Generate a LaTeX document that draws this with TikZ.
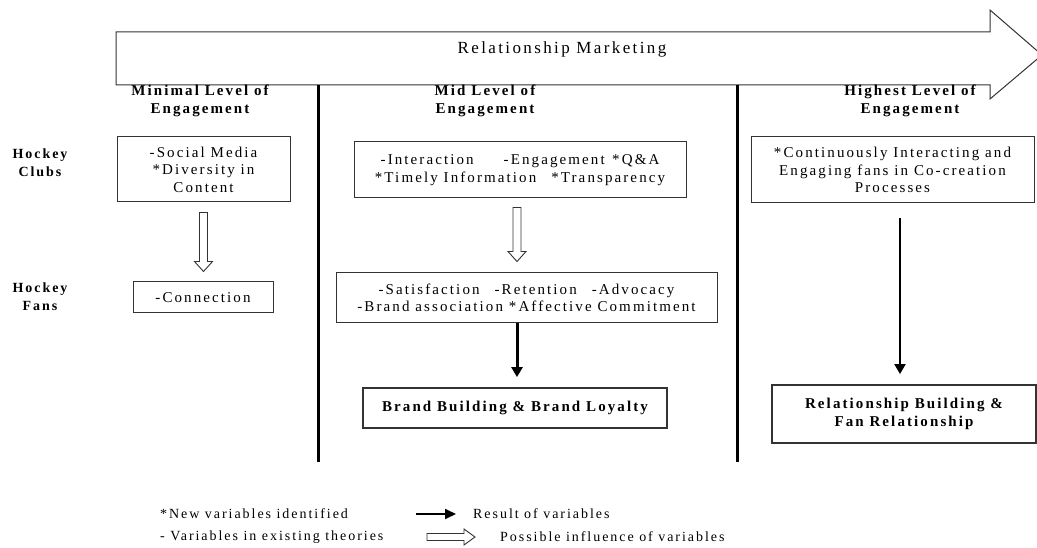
\documentclass[tikz,border=0pt]{standalone}
\usepackage{fontspec}
\setmainfont{Liberation Serif}[LetterSpace=14]
\usetikzlibrary{arrows.meta,calc,positioning}

% hollow "possible influence" arrows
\newcommand{\hollowdown}[2]{%
  \draw[hollowarr] let \p1=(#1), \p2=(#2) in
    (\x1-4pt,\y1) -- (\x1-4pt,\y2+10pt) -- (\x1-9pt,\y2+10pt) -- (\x1,\y2)
    -- (\x1+9pt,\y2+10pt) -- (\x1+4pt,\y2+10pt) -- (\x1+4pt,\y1) -- cycle;}
\newcommand{\hollowright}[2]{%
  \draw[hollowarr] let \p1=(#1), \p2=(#2) in
    (\x1,\y1+3.5pt) -- (\x2-11pt,\y1+3.5pt) -- (\x2-11pt,\y1+8pt) -- (\x2,\y1)
    -- (\x2-11pt,\y1-8pt) -- (\x2-11pt,\y1-3.5pt) -- (\x1,\y1-3.5pt) -- cycle;}

\tikzset{
  box/.style = {draw=black!80, line width=1pt, align=center, inner sep=2pt,
                font=\fontsize{15}{17.5}\selectfont},
  resultbox/.style = {box, line width=1.8pt, font=\fontsize{15}{18}\selectfont\bfseries},
  heading/.style = {align=center, font=\fontsize{15}{18}\selectfont\bfseries},
  legend/.style = {anchor=west, inner sep=0pt, font=\fontsize{14}{16}\selectfont},
  hollowarr/.style = {draw=black!80, line width=0.9pt, fill=white},
  result/.style = {-{Triangle[length=10pt,width=11pt]}, line width=2.4pt},
  divider/.style = {line width=3pt}
}

\begin{document}
\begin{tikzpicture}[x=1pt, y=-1pt]
\useasboundingbox (0,0) rectangle (1037,548);
\clip (0,0) rectangle (1037,548);

% big arrow
\draw[draw=black!80, line width=1pt]
  (116,32) -- (990,32) -- (990,10) -- (1042,55) -- (990,99) -- (990,85) -- (116,85) -- cycle;
\node[font=\fontsize{17}{20}\selectfont] (rm) at (562,49) {Relationship Marketing};

% dividers
\coordinate (d1t) at (318,85);
\coordinate (d1b) at (318,462);
\coordinate (d2t) at (737,85);
\coordinate (d2b) at (737,462);
\draw[divider] (d1t) -- (d1b);
\draw[divider] (d2t) -- (d2b);

% headings
\node[heading] (hmin) at (200,101) {Minimal Level of\\Engagement};
\node[heading] (hmid) at (485,101) {Mid Level of\\Engagement};
\node[heading] (hhigh) at (910,101) {Highest Level of\\Engagement};
\node[heading, font=\fontsize{14}{18}\selectfont\bfseries] (clubs) at (40,163) {Hockey\\Clubs};
\node[heading, font=\fontsize{14}{18}\selectfont\bfseries] (fans) at (40,297) {Hockey\\Fans};

% minimal level
\node[box, minimum width=173, minimum height=65] (clubsmin) at (203.5,169.5)
  {-Social Media\\*Diversity in\\Content};
\node[box, minimum width=140, minimum height=31] (fansmin) at (203,297.5) {-Connection};
\hollowdown{[yshift=-10pt]clubsmin.south}{[yshift=10pt]fansmin.north}

% mid level
\node[box, minimum width=332, minimum height=56] (clubsmid) at (520,170)
  {-Interaction\qquad -Engagement\enspace *Q\&A\\*Timely Information\quad *Transparency};
\node[box, minimum width=381, minimum height=50] (fansmid) at (526.5,298)
  {-Satisfaction\quad -Retention\quad -Advocacy\\-Brand association *Affective Commitment};
\node[resultbox, minimum width=304, minimum height=40] (brand) at (515,408)
  {Brand Building \& Brand Loyalty};
\coordinate (m1) at (clubsmid.south -| 517,0);
\hollowdown{[yshift=-9pt]m1}{[yshift=11pt]fansmid.north -| m1}
\draw[result, line width=3pt] (fansmid.south -| m1) -- ([yshift=10pt]brand.north -| m1);

% highest level
\node[box, minimum width=283, minimum height=66] (clubshigh) at (892.5,170)
  {*Continuously Interacting and\\Engaging fans in Co-creation\\Processes};
\node[resultbox, minimum width=264, minimum height=58] (relation) at (904,414)
  {Relationship Building \&\\Fan Relationship};
\coordinate (r1) at (clubshigh.south -| 900,0);
\draw[result, line width=2pt] ([yshift=-15pt]r1) -- ([yshift=10pt]relation.north -| r1);

% legend
\node[legend] (newvar) at (160,514) {*New variables identified};
\node[legend] (oldvar) at (160,537) {- Variables in existing theories};
\coordinate (la1) at (416,514);
\coordinate (la2) at (456,514);
\draw[result, line width=2pt, -{Triangle[length=11pt,width=10pt]}] (la1) -- (la2);
\node[legend] (resvar) at (473,514) {Result of variables};
\coordinate (lb1) at (427,537);
\coordinate (lb2) at (475,537);
\hollowright{lb1}{lb2}
\node[legend] (posvar) at (500,537) {Possible influence of variables};
\end{tikzpicture}
\end{document}
